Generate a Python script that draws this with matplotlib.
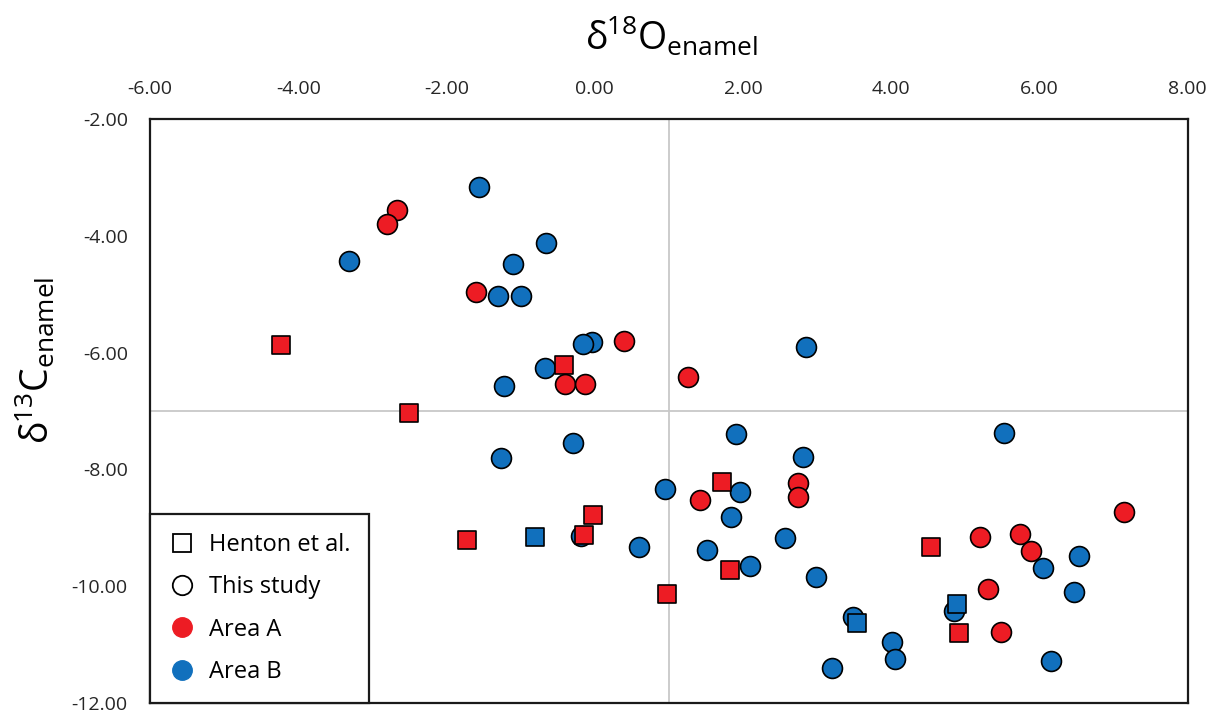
import matplotlib
matplotlib.use('Agg')
import matplotlib.pyplot as plt
from matplotlib.lines import Line2D

plt.rcParams['font.family'] = ['Open Sans', 'DejaVu Sans']
plt.rcParams['mathtext.fontset'] = 'custom'
plt.rcParams['mathtext.rm'] = 'Open Sans'
plt.rcParams['mathtext.it'] = 'Open Sans'

# this study, Area A (red circles)
a_d18o = [-2.67, -2.81, -1.60, 0.40, -0.40, -0.13, 1.26, 1.42, 2.74, 2.74,
          7.14, 5.19, 5.74, 5.88, 5.31, 5.48]
a_d13c = [-3.56, -3.80, -4.96, -5.80, -6.53, -6.53, -6.41, -8.53, -8.24, -8.48,
          -8.73, -9.15, -9.11, -9.40, -10.05, -10.79]

# this study, Area B (blue circles)
b_d18o = [-1.56, -3.31, -0.66, -1.10, -1.31, -1.00, -0.04, -0.16, -0.67, -1.23,
          2.85, -1.26, -0.29, 0.95, -0.19, 0.59, 1.90, 2.81, 5.52, 1.96,
          1.84, 2.57, 1.51, 2.09, 2.99, 6.53, 6.04, 6.47, 3.49, 4.85,
          4.01, 4.05, 3.20, 6.15]
b_d13c = [-3.17, -4.43, -4.12, -4.49, -5.03, -5.03, -5.82, -5.86, -6.26, -6.58,
          -5.91, -7.81, -7.54, -8.33, -9.14, -9.33, -7.40, -7.78, -7.38, -8.38,
          -8.82, -9.17, -9.38, -9.66, -9.84, -9.48, -9.69, -10.10, -10.52, -10.42,
          -10.95, -11.25, -11.40, -11.28]

# Henton et al., Area A (red squares)
ha_d18o = [-4.24, -0.42, -2.50, -0.03, -1.73, -0.15, 1.71, 4.54, 1.82, 0.98, 4.92]
ha_d13c = [-5.87, -6.22, -7.04, -8.78, -9.21, -9.12, -8.21, -9.32, -9.73, -10.13, -10.80]

# Henton et al., Area B (blue squares)
hb_d18o = [-0.81, 3.54, 4.89]
hb_d13c = [-9.15, -10.63, -10.30]

RED = '#ED1C24'
BLUE = '#1170BD'

fig = plt.figure(figsize=(12.17, 7.17), dpi=100)
ax = fig.add_axes([0.1233, 0.0195, 0.8527, 0.8145])

ax.axvline(1.0, color='#c8c8c8', lw=1.3, zorder=0)
ax.axhline(-7.0, color='#c8c8c8', lw=1.3, zorder=0)

ax.scatter(b_d18o, b_d13c, s=205, marker='o', c=BLUE, edgecolors='black', linewidths=1.2, zorder=2)
ax.scatter(ha_d18o, ha_d13c, s=185, marker='s', c=RED, edgecolors='black', linewidths=1.2, zorder=3)
ax.scatter(hb_d18o, hb_d13c, s=185, marker='s', c=BLUE, edgecolors='black', linewidths=1.2, zorder=3)
ax.scatter(a_d18o, a_d13c, s=205, marker='o', c=RED, edgecolors='black', linewidths=1.2, zorder=4)

ax.set_xlim(-6, 8)
ax.set_ylim(-12, -2)
ax.set_xticks(range(-6, 9, 2))
ax.set_yticks(range(-12, -1, 2))
ax.xaxis.set_major_formatter(lambda v, p: f'{v:.2f}')
ax.yaxis.set_major_formatter(lambda v, p: f'{v:.2f}')
ax.xaxis.tick_top()
ax.tick_params(axis='both', length=0, labelsize=14, labelcolor='#262626')
ax.tick_params(axis='x', pad=15)
ax.tick_params(axis='y', pad=16)
for sp in ax.spines.values():
    sp.set_linewidth(1.6)
    sp.set_color('#1a1a1a')

fig.text(0.552, 0.93, r'$\delta^{\!18}\mathrm{O}_{\mathrm{enamel}}$', fontsize=27,
         ha='center', va='baseline')
fig.text(0.029, 0.498, r'$\delta^{\!13}\mathrm{C}_{\mathrm{enamel}}$', fontsize=27,
         ha='center', va='center', rotation=90)

handles = [
    Line2D([], [], ls='none', marker='s', ms=13, mfc='white', mec='black', mew=1.3),
    Line2D([], [], ls='none', marker='o', ms=14, mfc='white', mec='black', mew=1.3),
    Line2D([], [], ls='none', marker='o', ms=14, mfc=RED, mec=RED),
    Line2D([], [], ls='none', marker='o', ms=14, mfc=BLUE, mec=BLUE),
]
labels = ['Henton et al.', 'This study', 'Area A', 'Area B']
leg = ax.legend(handles, labels, loc='lower left', bbox_to_anchor=(0, 0),
                borderaxespad=0, fancybox=False, framealpha=1, fontsize=17,
                labelspacing=0.78, handletextpad=0.6, borderpad=0.8,
                handlelength=1.1)
leg.get_frame().set_edgecolor('#1a1a1a')
leg.get_frame().set_linewidth(1.6)
leg.set_zorder(5)

fig.savefig('out.png', dpi=100)
